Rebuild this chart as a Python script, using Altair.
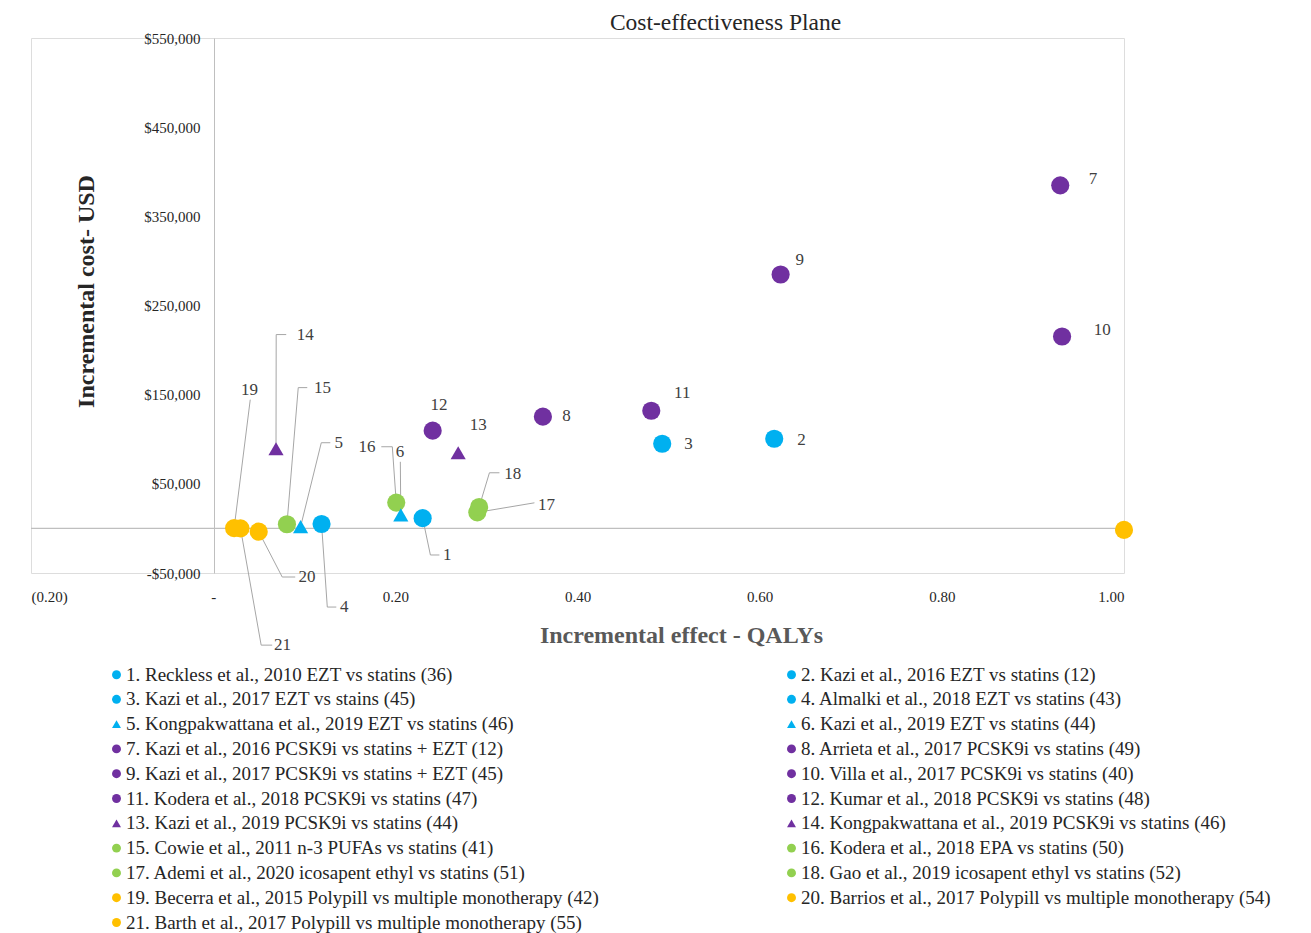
import altair as alt
import pandas as pd

# ---------------- data ----------------
ids = list(range(1, 22))
studies = [
    "1. Reckless et al., 2010 EZT vs statins (36)",
    "2. Kazi et al.,  2016 EZT vs statins (12)",
    "3. Kazi et al., 2017 EZT vs stains (45)",
    "4. Almalki et al., 2018 EZT vs statins (43)",
    "5. Kongpakwattana et al., 2019 EZT vs statins (46)",
    "6. Kazi et al., 2019 EZT vs statins (44)",
    "7. Kazi et al., 2016 PCSK9i vs statins + EZT (12)",
    "8. Arrieta et al., 2017 PCSK9i vs statins (49)",
    "9. Kazi et al., 2017 PCSK9i vs statins + EZT (45)",
    "10. Villa et al., 2017 PCSK9i vs statins (40)",
    "11. Kodera et al., 2018 PCSK9i vs statins (47)",
    "12. Kumar et al., 2018 PCSK9i vs statins (48)",
    "13. Kazi et al., 2019  PCSK9i vs statins (44)",
    "14. Kongpakwattana et al., 2019 PCSK9i vs statins (46)",
    "15. Cowie et al.,  2011 n-3 PUFAs vs statins (41)",
    "16. Kodera et al., 2018 EPA vs statins (50)",
    "17. Ademi et al., 2020 icosapent ethyl vs statins (51)",
    "18. Gao et al., 2019 icosapent ethyl vs statins (52)",
    "19. Becerra et al., 2015 Polypill vs multiple monotherapy (42)",
    "20. Barrios et al., 2017 Polypill vs multiple monotherapy (54)",
    "21. Barth et al., 2017 Polypill vs multiple monotherapy (55)",
]
groups = ["EZT"] * 6 + ["PCSK9i"] * 8 + ["Omega-3"] * 4 + ["Polypill"] * 3
markers = (["circle"] * 4 + ["triangle-up"] * 2 + ["circle"] * 6
           + ["triangle-up"] * 2 + ["circle"] * 7)

qaly = [0.230, 0.616, 0.493, 0.119, 0.096, 0.206, 0.930, 0.362, 0.623, 0.932,
        0.481, 0.241, 0.269, 0.069, 0.081, 0.201, 0.290, 0.292, 0.023, 0.050, 0.030]
cost = [11500, 100600, 95000, 5000, 2000, 15200, 384800, 125300, 284800, 215200,
        132000, 109600, 84800, 89300, 4700, 29000, 18000, 24000, 300, -3600, 0]

# where each number label sits (data units)
label_qaly = [0.257, 0.646, 0.522, 0.144, 0.138, 0.205, 0.966, 0.388, 0.644, 0.976,
              0.515, 0.248, 0.291, 0.101, 0.120, 0.169, 0.366, 0.329, 0.040, 0.103, 0.076]
label_cost = [-29800, 99400, 94900, -88200, 96100, 86000, 391600, 126400, 300800, 223000,
              152200, 138800, 116300, 217400, 157900, 91600, 26400, 61200, 155600, -54500, -130900]

# leader lines: vertices after the point itself (data units)
leader_id = [14, 14, 19, 15, 15, 5, 5, 16, 16, 6, 18, 18, 17, 1, 1, 4, 4, 20, 20, 21, 21]
leader_qaly = [0.0692, 0.0802, 0.0407, 0.0934, 0.1033, 0.1187, 0.1286, 0.1967, 0.1846,
               0.2055, 0.3033, 0.3143, 0.3527, 0.2385, 0.2484, 0.1253, 0.1352,
               0.0758, 0.0901, 0.0527, 0.0648]
leader_cost = [217400, 217400, 144400, 157900, 157900, 96100, 96100, 91600, 91600,
               74700, 62400, 62400, 28700, -29800, -29800, -88200, -88200,
               -54500, -54500, -130900, -130900]

# an unlabelled yellow point at the far right of the plane
extra_qaly = [1.0]
extra_cost = [-1700]

group_colors = {"EZT": "#00B0F0", "PCSK9i": "#7030A0", "Omega-3": "#92D050", "Polypill": "#FFC000"}
colors = [group_colors[g] for g in groups]

x_ticks = [-0.2, 0.0, 0.2, 0.4, 0.6, 0.8, 1.0]
y_ticks = [-50000, 50000, 150000, 250000, 350000, 450000, 550000]

# ---------------- tables ----------------
pts = pd.DataFrame({"id": ids, "study": studies, "marker": markers,
                    "qaly": qaly, "cost": cost})
labels = pd.DataFrame({"id": [str(i) for i in ids], "qaly": label_qaly, "cost": label_cost})

rows = []
seq = {}
for i, q, c in zip(ids, qaly, cost):
    if i in leader_id:
        rows.append({"id": i, "seq": 0, "qaly": q, "cost": c})
        seq[i] = 0
for i, q, c in zip(leader_id, leader_qaly, leader_cost):
    seq[i] += 1
    rows.append({"id": i, "seq": seq[i], "qaly": q, "cost": c})
leaders = pd.DataFrame(rows)
extra = pd.DataFrame({"qaly": extra_qaly, "cost": extra_cost})
zero = pd.DataFrame({"cost": [0]})

SERIF = "Liberation Serif"

xscale = alt.Scale(domain=[-0.2, 1.0], nice=False, zero=False)
yscale = alt.Scale(domain=[-50000, 550000], nice=False, zero=False)

xaxis = alt.Axis(
    values=x_ticks, domain=False, ticks=False, grid=False,
    labelExpr="datum.value < 0 ? '(' + format(-datum.value, '.2f') + ')' : (datum.value == 0 ? '-' : format(datum.value, '.2f'))",
    labelFont=SERIF, labelFontSize=15, labelColor="#262626", labelPadding=16,
    title="Incremental effect - QALYs", titleFont=SERIF, titleFontSize=24,
    titleFontWeight="bold", titleColor="#595959", titleX=650, titleY=62,
    titleAlign="center", titleBaseline="middle",
)
yaxis = alt.Axis(
    values=y_ticks, domain=True, domainColor="#BFBFBF", ticks=False, grid=False,
    offset=-183,
    labelExpr="datum.value < 0 ? '-$' + format(-datum.value, ',') : '$' + format(datum.value, ',')",
    labelFont=SERIF, labelFontSize=15, labelColor="#262626", labelPadding=14,
    title="Incremental cost- USD", titleFont=SERIF, titleFontSize=24,
    titleFontWeight="bold", titleColor="#262626", titleX=-128, titleY=253,
    titleAlign="center", titleBaseline="middle",
)
X = alt.X("qaly:Q", scale=xscale, axis=xaxis)
Y = alt.Y("cost:Q", scale=yscale, axis=yaxis)

legend = alt.Legend(
    title=None, orient="none", legendX=76, legendY=627, columns=2,
    direction="horizontal", columnPadding=183, rowPadding=4.8,
    labelFont=SERIF, labelFontSize=19, labelColor="#262626", symbolSize=80,
    labelOffset=0, labelLimit=700, padding=0, gridAlign="each",
)
color = alt.Color("study:N", scale=alt.Scale(domain=studies, range=colors),
                  sort=studies, legend=legend)
shape = alt.Shape("study:N", scale=alt.Scale(domain=studies, range=markers),
                  sort=studies, legend=legend)

zero_line = alt.Chart(zero).mark_rule(color="#BFBFBF", strokeWidth=1.2).encode(y=Y)

leader_lines = alt.Chart(leaders).mark_line(color="#A6A6A6", strokeWidth=1).encode(
    x=X, y=Y, detail="id:N", order="seq:Q")

circles = alt.Chart(pts).transform_filter("datum.marker == 'circle'").mark_point(
    filled=True, opacity=1, size=330).encode(x=X, y=Y, color=color, shape=shape)
triangles = alt.Chart(pts).transform_filter("datum.marker != 'circle'").mark_point(
    filled=True, opacity=1, size=230).encode(x=X, y=Y, color=color, shape=shape)

extra_pt = alt.Chart(extra).mark_point(filled=True, opacity=1, size=330,
                                       shape="circle", color="#FFC000").encode(x=X, y=Y)

num_labels = alt.Chart(labels).mark_text(
    font=SERIF, fontSize=17, color="#404040", align="center", baseline="middle"
).encode(x=X, y=Y, text="id:N")

chart = alt.layer(zero_line, leader_lines, circles, triangles, extra_pt, num_labels).properties(
    width=1093, height=535,
    title=alt.TitleParams("Cost-effectiveness Plane", font=SERIF, fontSize=23.5,
                          fontWeight="normal", color="#262626", anchor="middle",
                          dx=148, offset=-15, baseline="middle"),
    autosize=alt.AutoSizeParams(type="none"),
    padding={"left": 23, "top": 30, "right": 170, "bottom": 360},
).configure_view(stroke=None).configure(background="white")

chart.save("out.html", embed_options={"renderer": "svg", "actions": False})
